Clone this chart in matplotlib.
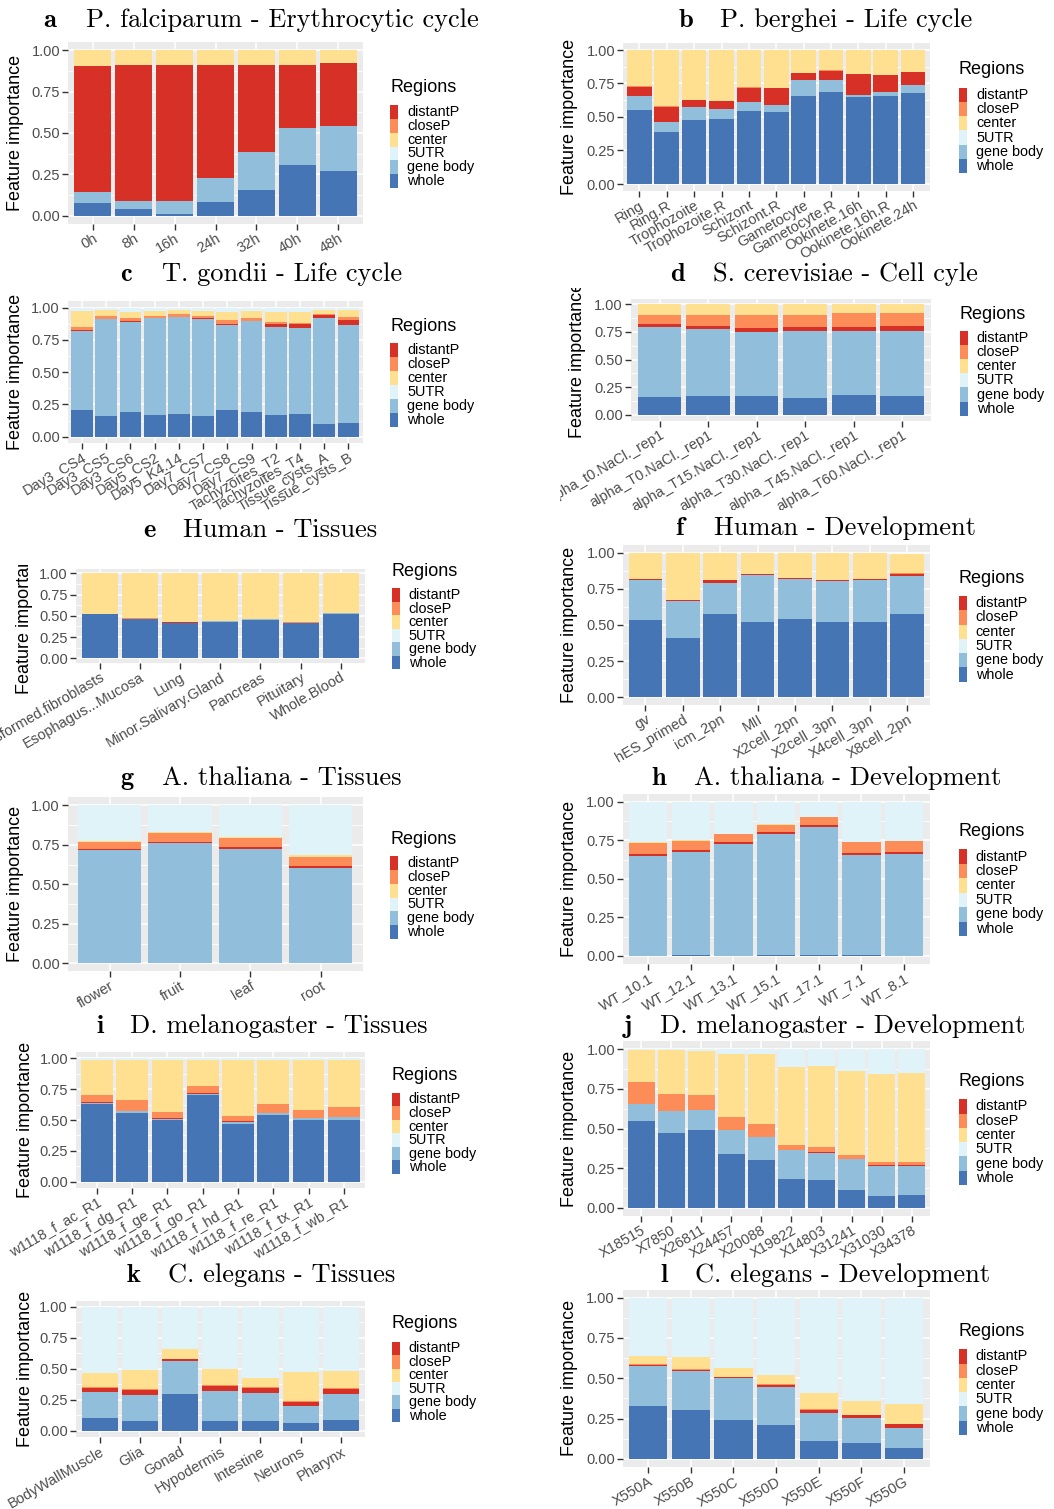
import matplotlib
matplotlib.use('Agg')
import matplotlib.pyplot as plt
from matplotlib.patches import Rectangle
from matplotlib.transforms import Bbox

W, H = 1054, 1509
plt.rcParams['font.family'] = ['Liberation Sans', 'DejaVu Sans']

# colours of the regions (RdYlBu)
colors = {'distantP': '#D73027', 'closeP': '#FC8D59', 'center': '#FEE090',
          '5UTR': '#E0F3F8', 'gene body': '#91BFDB', 'whole': '#4575B4'}
legend_order = ['distantP', 'closeP', 'center', '5UTR', 'gene body', 'whole']
stack_order = ['whole', 'gene body', 'distantP', 'closeP', 'center', '5UTR']

# ---- a: P. falciparum ----
a_cats = ['0h', '8h', '16h', '24h', '32h', '40h', '48h']
a_whole = [0.075, 0.040, 0.012, 0.080, 0.155, 0.305, 0.270]
a_gene = [0.068, 0.049, 0.077, 0.148, 0.231, 0.228, 0.273]
a_distantP = [0.760, 0.820, 0.824, 0.685, 0.527, 0.380, 0.378]
a_closeP = [0.0, 0.0, 0.0, 0.0, 0.0, 0.0, 0.0]
a_center = [0.097, 0.091, 0.087, 0.087, 0.087, 0.087, 0.079]
a_utr = [0.0, 0.0, 0.0, 0.0, 0.0, 0.0, 0.0]

# ---- b: P. berghei ----
b_cats = ['Ring', 'Ring.R', 'Trophozoite', 'Trophozoite.R', 'Schizont', 'Schizont.R',
          'Gametocyte', 'Gametocyte.R', 'Ookinete.16h', 'Ookinete.16h.R', 'Ookinete.24h']
b_whole = [0.552, 0.388, 0.478, 0.485, 0.545, 0.537, 0.657, 0.687, 0.649, 0.657, 0.679]
b_gene = [0.105, 0.075, 0.097, 0.075, 0.067, 0.053, 0.119, 0.089, 0.015, 0.030, 0.060]
b_distantP = [0.067, 0.112, 0.052, 0.059, 0.104, 0.126, 0.052, 0.067, 0.157, 0.126, 0.097]
b_closeP = [0.005, 0.005, 0.002, 0.002, 0.005, 0.002, 0.002, 0.005, 0.002, 0.002, 0.002]
b_center = [0.271, 0.420, 0.371, 0.382, 0.279, 0.282, 0.170, 0.152, 0.177, 0.185, 0.162]
b_utr = [0.0] * 11

# ---- c: T. gondii ----
c_cats = ['Day3_CS4', 'Day3_CS5', 'Day3_CS6', 'Day5_CS2', 'Day5_K4.14', 'Day7_CS7',
          'Day7_CS8', 'Day7_CS9', 'Tachyzoites_T2', 'Tachyzoites_T4', 'Tissue_cysts_A',
          'Tissue_cysts_B']
c_whole = [0.207, 0.160, 0.191, 0.168, 0.176, 0.160, 0.207, 0.191, 0.168, 0.176, 0.098, 0.106]
c_gene = [0.612, 0.752, 0.698, 0.752, 0.752, 0.752, 0.659, 0.706, 0.682, 0.666, 0.822, 0.760]
c_distantP = [0.008, 0.002, 0.008, 0.002, 0.002, 0.008, 0.007, 0.002, 0.023, 0.031, 0.023, 0.038]
c_closeP = [0.023, 0.021, 0.023, 0.013, 0.021, 0.015, 0.031, 0.021, 0.016, 0.008, 0.008, 0.024]
c_center = [0.124, 0.047, 0.046, 0.039, 0.031, 0.039, 0.062, 0.054, 0.077, 0.085, 0.031, 0.054]
c_utr = [0.026, 0.018, 0.034, 0.026, 0.018, 0.026, 0.034, 0.026, 0.034, 0.034, 0.018, 0.018]

# ---- d: S. cerevisiae ----
d_cats = ['alpha_t0.NaCl._rep1', 'alpha_T0.NaCl._rep1', 'alpha_T15.NaCl._rep1',
          'alpha_T30.NaCl._rep1', 'alpha_T45.NaCl._rep1', 'alpha_T60.NaCl._rep1']
d_whole = [0.163, 0.172, 0.172, 0.154, 0.181, 0.172]
d_gene = [0.632, 0.605, 0.578, 0.605, 0.578, 0.587]
d_distantP = [0.027, 0.027, 0.036, 0.036, 0.036, 0.045]
d_closeP = [0.082, 0.100, 0.118, 0.109, 0.127, 0.118]
d_center = [0.096, 0.096, 0.096, 0.096, 0.078, 0.078]
d_utr = [0.0] * 6

# ---- e: Human tissues ----
e_cats = ['Cells...Transformed.fibroblasts', 'Esophagus...Mucosa', 'Lung',
          'Minor.Salivary.Gland', 'Pancreas', 'Pituitary', 'Whole.Blood']
e_whole = [0.522, 0.463, 0.416, 0.427, 0.451, 0.416, 0.522]
e_gene = [0.0, 0.003, 0.0, 0.008, 0.008, 0.0, 0.008]
e_distantP = [0.0, 0.002, 0.010, 0.0, 0.0, 0.004, 0.0]
e_closeP = [0.0, 0.006, 0.0, 0.0, 0.0, 0.006, 0.0]
e_center = [0.478, 0.526, 0.574, 0.565, 0.541, 0.574, 0.470]
e_utr = [0.0] * 7

# ---- f: Human development ----
f_cats = ['gv', 'hES_primed', 'icm_2pn', 'MII', 'X2cell_2pn', 'X2cell_3pn',
          'X4cell_3pn', 'X8cell_2pn']
f_whole = [0.535, 0.410, 0.576, 0.521, 0.541, 0.521, 0.521, 0.576]
f_gene = [0.276, 0.256, 0.214, 0.325, 0.277, 0.283, 0.290, 0.263]
f_distantP = [0.005, 0.004, 0.020, 0.004, 0.004, 0.004, 0.004, 0.013]
f_closeP = [0.002, 0.002, 0.002, 0.002, 0.002, 0.005, 0.002, 0.006]
f_center = [0.182, 0.328, 0.188, 0.148, 0.176, 0.187, 0.183, 0.133]
f_utr = [0.0] * 8

# ---- g: A. thaliana tissues ----
g_cats = ['flower', 'fruit', 'leaf', 'root']
g_whole = [0.0, 0.0, 0.004, 0.004]
g_gene = [0.717, 0.762, 0.720, 0.599]
g_distantP = [0.005, 0.005, 0.012, 0.013]
g_closeP = [0.046, 0.058, 0.057, 0.057]
g_center = [0.005, 0.004, 0.005, 0.013]
g_utr = [0.227, 0.171, 0.202, 0.314]

# ---- h: A. thaliana development ----
h_cats = ['WT_10.1', 'WT_12.1', 'WT_13.1', 'WT_15.1', 'WT_17.1', 'WT_7.1', 'WT_8.1']
h_whole = [0.0, 0.004, 0.0, 0.004, 0.004, 0.004, 0.0]
h_gene = [0.648, 0.670, 0.726, 0.786, 0.832, 0.650, 0.661]
h_distantP = [0.013, 0.013, 0.011, 0.012, 0.012, 0.015, 0.012]
h_closeP = [0.071, 0.058, 0.053, 0.047, 0.052, 0.070, 0.072]
h_center = [0.006, 0.006, 0.0, 0.006, 0.0, 0.0, 0.0]
h_utr = [0.262, 0.249, 0.210, 0.145, 0.100, 0.261, 0.255]

# ---- i: D. melanogaster tissues ----
i_cats = ['w1118_f_ac_R1', 'w1118_f_dg_R1', 'w1118_f_ge_R1', 'w1118_f_go_R1',
          'w1118_f_hd_R1', 'w1118_f_re_R1', 'w1118_f_tx_R1', 'w1118_f_wb_R1']
i_whole = [0.630, 0.557, 0.500, 0.703, 0.468, 0.541, 0.500, 0.500]
i_gene = [0.005, 0.015, 0.008, 0.008, 0.015, 0.012, 0.015, 0.022]
i_distantP = [0.008, 0.003, 0.005, 0.005, 0.005, 0.003, 0.005, 0.005]
i_closeP = [0.060, 0.087, 0.052, 0.060, 0.044, 0.074, 0.061, 0.078]
i_center = [0.287, 0.328, 0.425, 0.214, 0.458, 0.360, 0.409, 0.385]
i_utr = [0.010] * 8

# ---- j: D. melanogaster development ----
j_cats = ['X18515', 'X7850', 'X26811', 'X24457', 'X20088', 'X19822', 'X14803',
          'X31241', 'X31030', 'X34378']
j_whole = [0.547, 0.472, 0.491, 0.339, 0.301, 0.181, 0.175, 0.112, 0.074, 0.080]
j_gene = [0.108, 0.139, 0.126, 0.152, 0.145, 0.183, 0.170, 0.195, 0.189, 0.183]
j_distantP = [0.0, 0.0, 0.0, 0.0, 0.0, 0.0, 0.006, 0.0, 0.006, 0.006]
j_closeP = [0.139, 0.107, 0.095, 0.082, 0.082, 0.032, 0.032, 0.026, 0.019, 0.019]
j_center = [0.202, 0.278, 0.277, 0.397, 0.442, 0.492, 0.512, 0.530, 0.556, 0.563]
j_utr = [0.004, 0.004, 0.011, 0.030, 0.030, 0.112, 0.105, 0.137, 0.156, 0.149]

# ---- k: C. elegans tissues ----
k_cats = ['BodyWallMuscle', 'Glia', 'Gonad', 'Hypodermis', 'Intestine', 'Neurons', 'Pharynx']
k_whole = [0.102, 0.078, 0.296, 0.078, 0.078, 0.062, 0.086]
k_gene = [0.210, 0.210, 0.266, 0.242, 0.226, 0.137, 0.210]
k_distantP = [0.032, 0.040, 0.016, 0.040, 0.040, 0.032, 0.040]
k_closeP = [0.005, 0.005, 0.0, 0.008, 0.005, 0.008, 0.005]
k_center = [0.116, 0.156, 0.081, 0.129, 0.076, 0.234, 0.140]
k_utr = [0.535, 0.511, 0.341, 0.503, 0.575, 0.527, 0.519]

# ---- l: C. elegans development ----
l_cats = ['X550A', 'X550B', 'X550C', 'X550D', 'X550E', 'X550F', 'X550G']
l_whole = [0.329, 0.304, 0.242, 0.211, 0.112, 0.099, 0.068]
l_gene = [0.247, 0.241, 0.260, 0.235, 0.173, 0.155, 0.124]
l_distantP = [0.006, 0.006, 0.006, 0.012, 0.020, 0.019, 0.025]
l_closeP = [0.006, 0.006, 0.002, 0.006, 0.006, 0.002, 0.002]
l_center = [0.050, 0.075, 0.054, 0.057, 0.098, 0.085, 0.122]
l_utr = [0.362, 0.368, 0.436, 0.479, 0.591, 0.640, 0.659]

fig = plt.figure(figsize=(W / 100, H / 100), dpi=100)


def fx(x):
    return x / W


def fy(y):
    return 1 - y / H


def clip_box(x0, y0, x1, y1):
    # pixel box of the image -> display coords
    return Bbox.from_extents(x0, H - y1, x1, H - y0)


def draw_panel(rect, cats, segs, ylab_x):
    x0, y0, x1, y1 = rect
    ax = fig.add_axes([fx(x0), fy(y1), (x1 - x0) / W, (y1 - y0) / H])
    ax.set_facecolor('#EBEBEB')
    for s in ax.spines.values():
        s.set_visible(False)
    xs = list(range(1, len(cats) + 1))
    bottom = [0.0] * len(cats)
    for name in stack_order:
        vals = segs[name]
        ax.bar(xs, vals, width=0.9, bottom=bottom, color=colors[name], linewidth=0, zorder=2)
        bottom = [b + v for b, v in zip(bottom, vals)]
    ax.set_xlim(0.4, len(cats) + 0.6)
    ax.set_ylim(-0.05, 1.05)
    ax.set_yticks([0, 0.25, 0.5, 0.75, 1.0])
    ax.set_yticklabels(['0.00', '0.25', '0.50', '0.75', '1.00'])
    ax.set_yticks([0.125, 0.375, 0.625, 0.875], minor=True)
    ax.set_xticks(xs)
    ax.set_xticklabels(cats, rotation=30, ha='right', va='top', rotation_mode='anchor')
    ax.grid(which='major', color='white', linewidth=1.1, zorder=0)
    ax.grid(which='minor', axis='y', color='white', linewidth=0.55, zorder=0)
    ax.set_axisbelow(True)
    ax.tick_params(which='major', length=4, width=1.0, color='#333333',
                   labelcolor='#4D4D4D', labelsize=10.5, pad=1.5)
    ax.tick_params(which='minor', length=0)
    ax.set_ylabel('Feature importance', fontsize=13)
    ax.yaxis.set_label_coords((ylab_x - x0) / (x1 - x0), 0.5)
    ax.yaxis.label.set_verticalalignment('center')
    return ax


def draw_legend(key_x, title_cy, top, bottom):
    fig.text(fx(key_x), fy(title_cy), 'Regions', fontsize=13, ha='left', va='center')
    step = (bottom - top) / len(legend_order)
    for n, name in enumerate(legend_order):
        ky = top + n * step
        fig.add_artist(Rectangle((fx(key_x), fy(ky + step)), 8 / W, step / H,
                                 transform=fig.transFigure, facecolor=colors[name],
                                 edgecolor='none'))
        fig.text(fx(key_x + 17), fy(ky + step / 2), name, fontsize=10.4,
                 ha='left', va='center')


def draw_title(letter, lx, tx, base, text):
    fig.text(fx(lx), fy(base), letter, fontsize=19, family='cmb10', va='baseline')
    fig.text(fx(tx), fy(base), text, fontsize=19, family='cmr10', va='baseline')


panels = [
    ('a', 'P. falciparum - Erythrocytic cycle', a_cats,
     [a_whole, a_gene, a_distantP, a_closeP, a_center, a_utr],
     (68, 42, 363, 224), 16, (390, 88, 105, 188), (43.3, 86, 27)),
    ('b', 'P. berghei - Life cycle', b_cats,
     [b_whole, b_gene, b_distantP, b_closeP, b_center, b_utr],
     (623, 43.3, 929.5, 190.7), 569.5, (959, 70, 88, 173), (679, 720.3, 27)),
    ('c', 'T. gondii - Life cycle', c_cats,
     [c_whole, c_gene, c_distantP, c_closeP, c_center, c_utr],
     (67.5, 301.2, 363, 443.1), 16, (390, 326.7, 343.3, 426.7), (120, 161.7, 281)),
    ('d', 'S. cerevisiae - Cell cyle', d_cats,
     [d_whole, d_gene, d_distantP, d_closeP, d_center, d_utr],
     (630.5, 298.8, 931.3, 420.5), 577.8, (959.7, 314.3, 331, 415.7), (670.3, 712.7, 281)),
    ('e', 'Human - Tissues', e_cats,
     [e_whole, e_gene, e_distantP, e_closeP, e_center, e_utr],
     (75.5, 569, 365, 662.6), 25, (391.7, 571.7, 588.3, 669.3), (143.3, 183.3, 537)),
    ('f', 'Human - Development', f_cats,
     [f_whole, f_gene, f_distantP, f_closeP, f_center, f_utr],
     (623, 545.4, 929.7, 704.5), 569.5, (958.7, 578.3, 596, 681.7), (675, 713.7, 535)),
    ('g', 'A. thaliana - Tissues', g_cats,
     [g_whole, g_gene, g_distantP, g_closeP, g_center, g_utr],
     (67.5, 797.4, 362.7, 971.2), 16, (390, 840, 856, 939), (120, 161.7, 785)),
    ('h', 'A. thaliana - Development', h_cats,
     [h_whole, h_gene, h_distantP, h_closeP, h_center, h_utr],
     (622.5, 794, 929.7, 963.7), 569.5, (958.7, 831.7, 849.3, 936), (651, 693.7, 785)),
    ('i', 'D. melanogaster - Tissues', i_cats,
     [i_whole, i_gene, i_distantP, i_closeP, i_center, i_utr],
     (75.8, 1052.2, 365, 1187.8), 25.8, (391.7, 1075, 1092.7, 1174), (96.7, 130, 1033)),
    ('j', 'D. melanogaster - Development', j_cats,
     [j_whole, j_gene, j_distantP, j_closeP, j_center, j_utr],
     (623, 1041.4, 929.7, 1215.6), 569.5, (958.7, 1081.7, 1099.3, 1185), (623.7, 660.3, 1033)),
    ('k', 'C. elegans - Tissues', k_cats,
     [k_whole, k_gene, k_distantP, k_closeP, k_center, k_utr],
     (75.5, 1300.5, 365, 1436.9), 25.8, (391.7, 1324, 1341.7, 1422.3), (126.7, 168.3, 1282)),
    ('l', 'C. elegans - Development', l_cats,
     [l_whole, l_gene, l_distantP, l_closeP, l_center, l_utr],
     (622.5, 1289.6, 929.7, 1467), 569.5, (958.7, 1331.7, 1349.3, 1435), (660.3, 695.3, 1282)),
]

axes = {}
for letter, title, cats, series, rect, ylab_x, leg, tpos in panels:
    segs = dict(zip(stack_order, series))
    axes[letter] = draw_panel(rect, cats, segs, ylab_x)
    draw_legend(*leg)
    draw_title(letter, tpos[0], tpos[1], tpos[2], title)

# the original panels were cut at their own borders
for lab in axes['d'].get_xticklabels():
    lab.set_clip_box(clip_box(560, 255, 1054, 510))
    lab.set_clip_on(True)
axes['d'].yaxis.label.set_clip_box(clip_box(527, 288, 1054, 510))
axes['d'].yaxis.label.set_clip_on(True)
axes['e'].yaxis.label.set_clip_box(clip_box(0, 565, 527, 760))
axes['e'].yaxis.label.set_clip_on(True)

fig.savefig('out.png', dpi=100)
